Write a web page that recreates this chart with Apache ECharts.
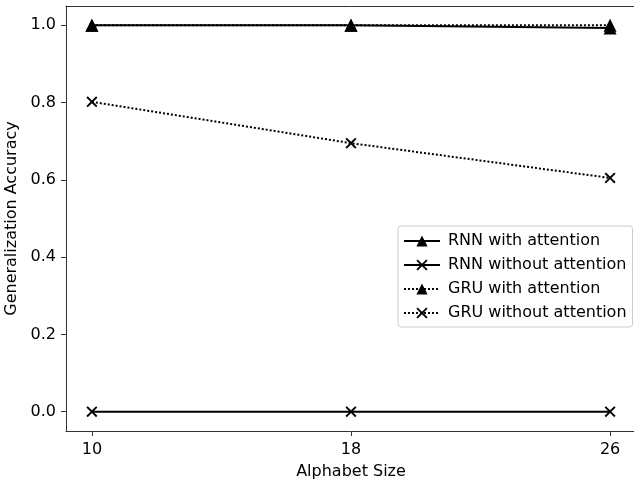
<!DOCTYPE html>
<html><head><meta charset="utf-8">
<script src="https://cdn.jsdelivr.net/npm/echarts@6/dist/echarts.min.js"></script>
<style>html,body{margin:0;padding:0;background:#fff}#c{width:634px;height:480px}</style>
</head><body><div id="c"></div>
<script>
const alphabetSizes = [10, 18, 26];
const rnnWithAttention = [1.0, 1.0, 0.993];
const rnnWithoutAttention = [0.0, 0.0, 0.0];
const gruWithAttention = [1.0, 1.0, 1.0];
const gruWithoutAttention = [0.802, 0.695, 0.605];
const yTicks = [0.0, 0.2, 0.4, 0.6, 0.8, 1.0];

const xMark = 'path://M1.2,0L5,3.8L8.8,0L10,1.2L6.2,5L10,8.8L8.8,10L5,6.2L1.2,10L0,8.8L3.8,5L0,1.2Z';
const font = 'DejaVu Sans';

function pairs(vals){ return alphabetSizes.map((x,i)=>[x, vals[i]]); }
function mk(name, vals, sym, type, size){
  return {
    name, type:'line', data: pairs(vals), symbol: sym, symbolSize: size,
    showSymbol:true,
    lineStyle:{color:'#000', width:2, type:type},
    itemStyle:{color:'#000'},
    emphasis:{disabled:true}, animation:false
  };
}
const spine = {show:true, onZero:false, lineStyle:{color:'#333', width:1}};
const chart = echarts.init(document.getElementById('c'), null, {renderer:'canvas'});
chart.setOption({
  animation:false,
  textStyle:{fontFamily:font},
  grid:{left:66, top:6, width:570, height:425, outerBoundsMode:'none', containLabel:false, show:false},
  xAxis:[{
    type:'value', min:9.2, max:26.8, position:'bottom',
    name:'Alphabet Size', nameLocation:'middle', nameGap:33,
    nameTextStyle:{fontFamily:font, fontSize:16, color:'#000'},
    axisLine:spine,
    splitLine:{show:false},
    axisTick:{show:true, length:5, inside:false, customValues: alphabetSizes, lineStyle:{color:'#333'}},
    axisLabel:{customValues: alphabetSizes, margin:11, fontFamily:font, fontSize:16, color:'#000'}
  },{
    type:'value', min:9.2, max:26.8, position:'top',
    axisLine:spine, axisTick:{show:false}, axisLabel:{show:false}, splitLine:{show:false}
  }],
  yAxis:{
    type:'value', min:-0.05, max:1.05,
    name:'Generalization Accuracy', nameLocation:'middle', nameGap:44,
    nameTextStyle:{fontFamily:font, fontSize:16, color:'#000'},
    axisLine:spine,
    splitLine:{show:false},
    axisTick:{show:true, length:5, customValues: yTicks, lineStyle:{color:'#333'}},
    axisLabel:{customValues: yTicks, margin:10, fontFamily:font, fontSize:16, color:'#000',
      formatter:v=>v.toFixed(1)}
  },
  legend:{
    orient:'vertical', left:398, top:226,
    backgroundColor:'#fff', borderColor:'#ccc', borderWidth:1, borderRadius:3,
    padding:[7,6,6,5],
    itemWidth:36, itemHeight:14, itemGap:8,
    textStyle:{fontFamily:font, fontSize:16, color:'#000', padding:[0,0,0,3]},
    data:['RNN with attention','RNN without attention','GRU with attention','GRU without attention']
  },
  series:[
    mk('RNN with attention', rnnWithAttention, 'triangle', 'solid', 13),
    mk('RNN without attention', rnnWithoutAttention, xMark, 'solid', 11),
    mk('GRU with attention', gruWithAttention, 'triangle', 'dotted', 13),
    mk('GRU without attention', gruWithoutAttention, xMark, 'dotted', 11)
  ]
});
</script></body></html>
